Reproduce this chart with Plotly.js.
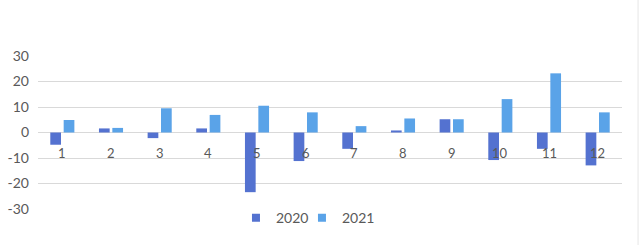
<!DOCTYPE html>
<html>
<head>
<meta charset="utf-8">
<script src="https://cdn.plot.ly/plotly-3.0.1.min.js"></script>
<style>html,body{margin:0;padding:0;background:#fff;}#chart{width:640px;height:245px;}</style>
</head>
<body>
<div id="chart"></div>
<script>
const categories = ['1','2','3','4','5','6','7','8','9','10','11','12'];
const series2020 = [-4.8, 1.6, -2.2, 1.6, -23.4, -11.2, -6.4, 0.8, 5.2, -10.8, -6.4, -12.9];
const series2021 = [4.9, 1.8, 9.5, 6.9, 10.5, 7.9, 2.5, 5.5, 5.2, 13.1, 23.2, 7.9];
const seriesNames = ['2020', '2021'];
const seriesColors = ['#5472d0', '#5aa3e8'];
const yTicks = [-30, -20, -10, 0, 10, 20, 30];

const font = {family: 'Lato, "Open Sans", sans-serif', size: 13, color: '#595959'};
const legendFont = {family: font.family, size: 14, color: '#595959'};

const traces = [
  {type: 'bar', name: seriesNames[0], x: categories, y: series2020, marker: {color: seriesColors[0]}, showlegend: false},
  {type: 'bar', name: seriesNames[1], x: categories, y: series2021, marker: {color: seriesColors[1]}, showlegend: false},
  {type: 'scatter', mode: 'markers', name: seriesNames[0], x: [null], y: [null], legend: 'legend',
   marker: {symbol: 'square', size: 8, color: seriesColors[0]}},
  {type: 'scatter', mode: 'markers', name: seriesNames[1], x: [null], y: [null], legend: 'legend2',
   marker: {symbol: 'square', size: 8, color: seriesColors[1]}}
];

const annotations = categories.map((c, i) => ({
  x: i, y: 0, xref: 'x', yref: 'y', text: c, showarrow: false,
  yshift: -20, font: font
}));

const layout = {
  width: 640, height: 245,
  margin: {l: 38, r: 18, t: 56, b: 35.5, autoexpand: false},
  paper_bgcolor: '#fff', plot_bgcolor: '#fff',
  barmode: 'group', bargap: 0.45, bargroupgap: 0.2,
  font: font,
  showlegend: true,
  legend: {orientation: 'h', x: 0.339, xanchor: 'left', y: -0.06, yanchor: 'middle',
           font: legendFont, itemwidth: 30, bgcolor: 'rgba(0,0,0,0)'},
  legend2: {orientation: 'h', x: 0.452, xanchor: 'left', y: -0.06, yanchor: 'middle',
           font: legendFont, itemwidth: 30, bgcolor: 'rgba(0,0,0,0)'},
  xaxis: {type: 'category', range: [-0.5, 11.5], showticklabels: false, showgrid: false, zeroline: false,
          showline: false, ticks: ''},
  yaxis: {range: [-30, 30], tickvals: yTicks, ticktext: yTicks.map(String),
          showgrid: true, gridcolor: '#d9d9d9', gridwidth: 1,
          zeroline: true, zerolinecolor: '#d9d9d9', zerolinewidth: 1,
          showline: false, ticks: '', ticklabelstandoff: 8,
          tickfont: legendFont},
  annotations: annotations,
  shapes: [{type: 'line', xref: 'paper', yref: 'paper', x0: 1.0275, x1: 1.0275, y0: -0.3, y1: 1.5,
            line: {color: '#e6e6e6', width: 1}}]
};

Plotly.newPlot('chart', traces, layout, {displayModeBar: false, staticPlot: true});
</script>
</body>
</html>
